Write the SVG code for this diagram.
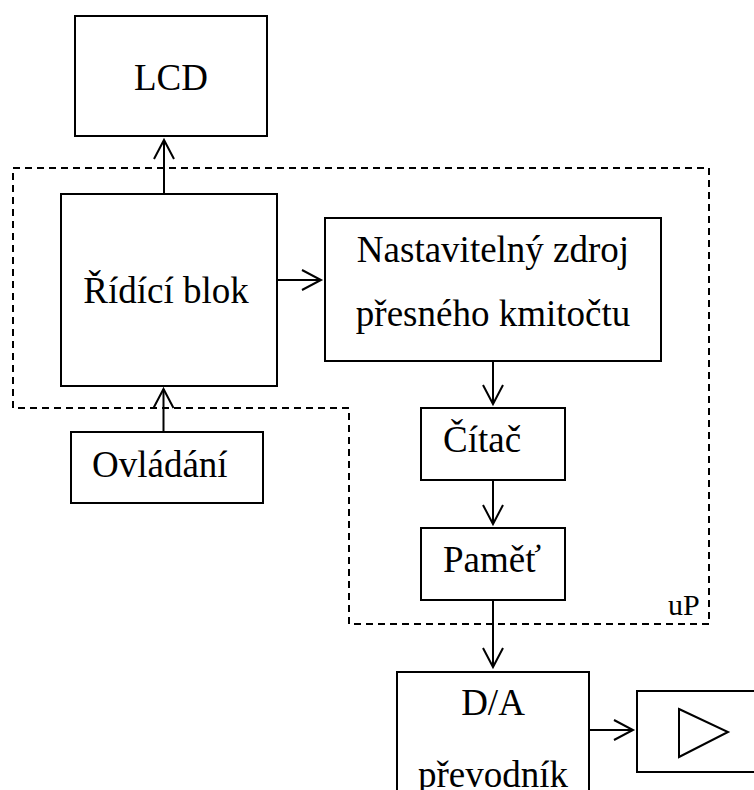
<svg xmlns="http://www.w3.org/2000/svg" width="754" height="790" viewBox="0 0 754 790">
<style>
.box{fill:#fff;stroke:#000;stroke-width:2}
.c{text-anchor:middle}
.con{fill:none;stroke:#000;stroke-width:2}
.dash{fill:none;stroke:#000;stroke-width:2;stroke-dasharray:7 5}
</style>
<defs>
<marker id="ah" markerUnits="userSpaceOnUse" markerWidth="26" markerHeight="26" viewBox="-22 -13 26 26" refX="0" refY="0" orient="auto">
<path d="M-19,-10 L0,0 L-19,10" fill="none" stroke="#000" stroke-width="2"/>
</marker>
</defs>
<rect width="754" height="790" fill="#fff"/>
<g font-family="'Liberation Serif', 'Times New Roman', serif" font-size="37" fill="#000">
<g id="up-boundary">
<path class="dash" d="M13,168 H709 V624 H349 V408 H13 Z"/>
<text x="668" y="615" font-size="30">uP</text>
</g>
<g id="lcd">
<rect class="box" x="75" y="16" width="192" height="120"/>
<text class="c" x="171" y="90">LCD</text>
</g>
<g id="ridici">
<rect class="box" x="61" y="194" width="216" height="192"/>
<text class="c" x="166" y="303">Řídící blok</text>
</g>
<g id="zdroj">
<rect class="box" x="325" y="218" width="336" height="143"/>
<text class="c" x="493" y="262">Nastavitelný zdroj</text>
<text class="c" x="493" y="326">přesného kmitočtu</text>
</g>
<g id="citac">
<rect class="box" x="421" y="408" width="144" height="72"/>
<text x="443" y="452">Čítač</text>
</g>
<g id="pamet">
<rect class="box" x="421" y="528" width="144" height="72"/>
<text x="443" y="572">Paměť</text>
</g>
<g id="ovladani">
<rect class="box" x="71" y="432" width="192" height="71"/>
<text x="92" y="477">Ovládání</text>
</g>
<g id="da">
<rect class="box" x="397" y="672" width="192" height="130"/>
<text class="c" x="493" y="715">D/A</text>
<text class="c" x="493" y="787">převodník</text>
</g>
<g id="amp">
<rect class="box" x="637" y="691" width="130" height="81"/>
<path d="M679,709 L728,732 L679,757 Z" fill="none" stroke="#000" stroke-width="2"/>
</g>
</g>
<g id="connectors">
<path class="con" d="M164,194 V140" marker-end="url(#ah)"/>
<path class="con" d="M277,280 H321" marker-end="url(#ah)"/>
<path class="con" d="M493,361 V404" marker-end="url(#ah)"/>
<path class="con" d="M493,480 V524" marker-end="url(#ah)"/>
<path class="con" d="M493,600 V667" marker-end="url(#ah)"/>
<path class="con" d="M589,730 H633" marker-end="url(#ah)"/>
<path class="con" d="M163.5,432 V389" marker-end="url(#ah)"/>
</g>
</svg>
